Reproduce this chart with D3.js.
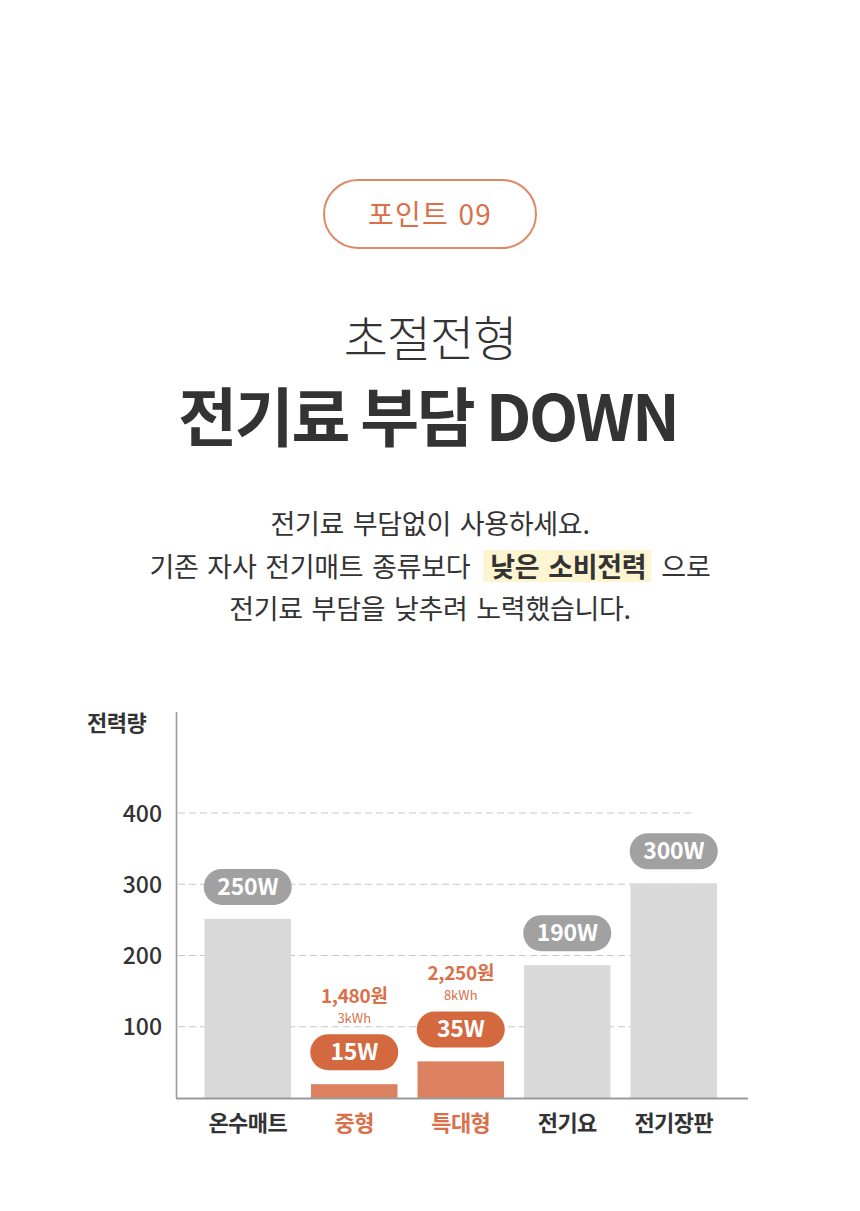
<!DOCTYPE html>
<html><head><meta charset="utf-8">
<script src="https://cdn.jsdelivr.net/npm/d3@7"></script>
<style>
html,body{margin:0;padding:0;background:#fff;}
svg{display:block;font-family:"Noto Sans CJK KR","Noto Sans",sans-serif;}
</style></head>
<body>
<svg id="c" width="860" height="1211"></svg>
<script>
const categories = ["온수매트", "중형", "특대형", "전기요", "전기장판"];
const barValues = [250, 18, 50, 185, 300];
const wattLabels = ["250W", "15W", "35W", "190W", "300W"];
const featured = [false, true, true, false, false];
const priceLabels = [null, "1,480원", "2,250원", null, null];
const kwhLabels = [null, "3kWh", "8kWh", null, null];
const yTicks = [100, 200, 300, 400];
const yTitle = "전력량";
const badgeText = "포인트 09";
const subTitle = "초절전형";
const mainTitle = "전기료 부담 DOWN";
const paraLine1 = "전기료 부담없이 사용하세요.";
const paraLine2a = "기존 자사 전기매트 종류보다";
const paraLine2b = "낮은 소비전력";
const paraLine2c = "으로";
const paraLine3 = "전기료 부담을 낮추려 노력했습니다.";

const ORANGE = "#d9704a", PILL_OR = "#d4683f", BAR_OR = "#dc8160";
const GRAY_BAR = "#d9d9d9", GRAY_PILL = "#a1a1a1", DARK = "#333333";

const svg = d3.select("#c");
const cx = 430;

// badge
svg.append("rect").attr("x", 324).attr("y", 180).attr("width", 212).attr("height", 68)
  .attr("rx", 34).attr("fill", "#fff").attr("stroke", "#e08866").attr("stroke-width", 2);
svg.append("text").attr("x", cx).attr("y", 225).attr("text-anchor", "middle")
  .attr("font-size", 28).attr("letter-spacing", 1.2).attr("word-spacing", 2)
  .attr("fill", ORANGE).text(badgeText);

// titles
svg.append("text").attr("x", cx).attr("y", 356).attr("text-anchor", "middle")
  .attr("font-size", 48).attr("font-weight", 300).attr("letter-spacing", -1).attr("fill", DARK).text(subTitle);
svg.append("text").attr("x", cx - 2).attr("y", 441).attr("text-anchor", "middle")
  .attr("font-size", 64).attr("font-weight", 700).attr("letter-spacing", -2.3).attr("fill", DARK).text(mainTitle);

// paragraph
const pfs = 27, pls = -0.3, pws = 3;
function para(txt, yy) {
  return svg.append("text").attr("x", cx).attr("y", yy).attr("text-anchor", "middle")
    .attr("font-size", pfs).attr("fill", DARK).attr("letter-spacing", pls).attr("word-spacing", pws).text(txt);
}
para(paraLine1, 534);
para(paraLine3, 619);

// line 2 with highlight
const l2g = svg.append("g");
const hlRect = l2g.append("rect").attr("fill", "#fdf5d2");
const l2 = l2g.append("text").attr("y", 577).attr("font-size", pfs).attr("fill", DARK)
  .attr("letter-spacing", pls).attr("word-spacing", pws);
const tA = l2.append("tspan").text(paraLine2a);
const tB = l2.append("tspan").attr("dx", 20).attr("font-weight", 700).text(paraLine2b);
const tC = l2.append("tspan").attr("dx", 15).text(paraLine2c);
l2.attr("x", 0);
const tw = l2.node().getBBox().width;
l2.attr("x", cx - tw / 2);
const bb = tB.node().getBBox();
hlRect.attr("x", bb.x - 7).attr("y", 550).attr("width", bb.width + 12).attr("height", 32);

// chart
const x = d3.scaleBand().domain(categories).range([194.5, 727])
  .paddingInner(20 / 106.5).paddingOuter(10 / 106.5);
const y = d3.scaleLinear().domain([0, 400]).range([1098, 813]);

// gridlines
svg.append("g").selectAll("line").data(yTicks).join("line")
  .attr("x1", 178).attr("x2", 695).attr("y1", d => y(d)).attr("y2", d => y(d))
  .attr("stroke", "#c8c8c8").attr("stroke-width", 1.2).attr("stroke-dasharray", "7,4");

// y tick labels
svg.append("g").selectAll("text").data(yTicks).join("text")
  .attr("x", 162).attr("y", d => y(d) + 8.5).attr("text-anchor", "end")
  .attr("font-size", 23).attr("font-weight", 500).attr("fill", DARK).text(d => d);

svg.append("text").attr("x", 87).attr("y", 731).attr("font-size", 22).attr("font-weight", 700)
  .attr("letter-spacing", -0.5).attr("fill", DARK).text(yTitle);

// bars
svg.append("g").selectAll("rect").data(categories).join("rect")
  .attr("x", d => x(d)).attr("width", x.bandwidth())
  .attr("y", (d, i) => y(barValues[i]) - 1).attr("height", (d, i) => y(0) - y(barValues[i]) + 1)
  .attr("fill", (d, i) => featured[i] ? BAR_OR : GRAY_BAR);

// axes lines
svg.append("line").attr("x1", 176.5).attr("x2", 176.5).attr("y1", 712).attr("y2", y(0))
  .attr("stroke", "#9a9a9a").attr("stroke-width", 1.6);
svg.append("line").attr("x1", 176).attr("x2", 748).attr("y1", y(0) + 0.5).attr("y2", y(0) + 0.5)
  .attr("stroke", "#9a9a9a").attr("stroke-width", 2);

// pills
const pw = 88, ph = 36;
const pills = svg.append("g").selectAll("g").data(categories).join("g")
  .attr("transform", (d, i) => `translate(${x(d) + x.bandwidth() / 2},${y(barValues[i]) - 15 - ph})`);
pills.append("rect").attr("x", -pw / 2).attr("y", 0).attr("width", pw).attr("height", ph)
  .attr("rx", ph / 2).attr("fill", (d, i) => featured[i] ? PILL_OR : GRAY_PILL);
pills.append("text").attr("x", 0).attr("y", 26).attr("text-anchor", "middle")
  .attr("font-size", 23).attr("font-weight", 600).attr("fill", "#fff").attr("letter-spacing", -0.2)
  .text((d, i) => wattLabels[i]);
pills.filter((d, i) => kwhLabels[i]).append("text").attr("x", 0).attr("y", -11)
  .attr("text-anchor", "middle").attr("font-size", 13).attr("fill", ORANGE)
  .text(d => kwhLabels[categories.indexOf(d)]);
pills.filter((d, i) => priceLabels[i]).append("text").attr("x", 0).attr("y", -31)
  .attr("text-anchor", "middle").attr("font-size", 19).attr("font-weight", 600).attr("fill", ORANGE)
  .attr("letter-spacing", -0.3)
  .text(d => priceLabels[categories.indexOf(d)]);

// category labels
svg.append("g").selectAll("text").data(categories).join("text")
  .attr("x", d => x(d) + x.bandwidth() / 2).attr("y", 1131).attr("text-anchor", "middle")
  .attr("font-size", 22).attr("font-weight", 700).attr("letter-spacing", -0.6)
  .attr("fill", (d, i) => featured[i] ? ORANGE : DARK).text(d => d);
</script>
</body></html>
